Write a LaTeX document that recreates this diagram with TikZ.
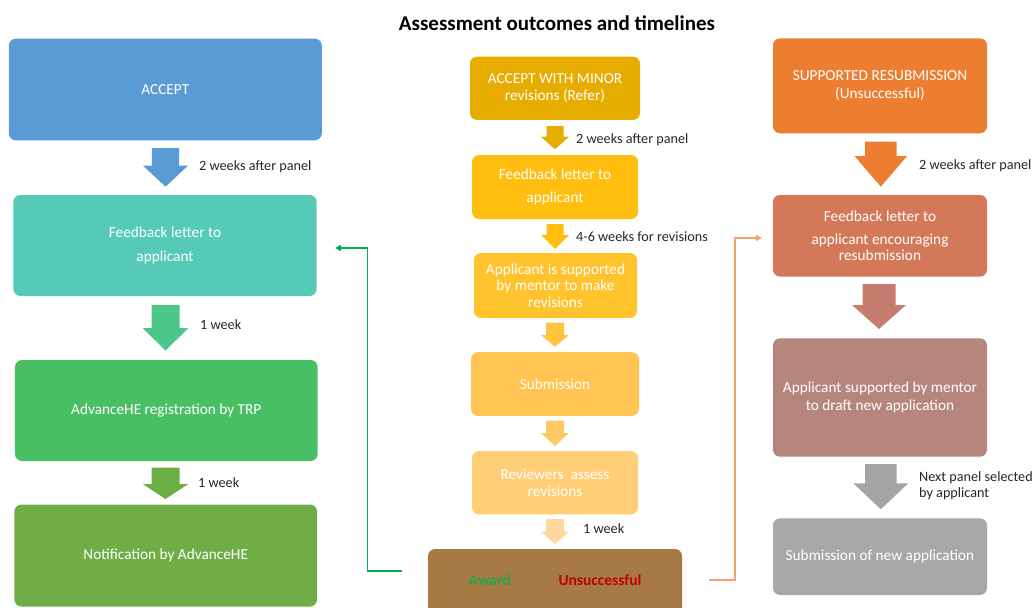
\documentclass[tikz,border=0pt]{standalone}
\usepackage{fontspec}
\setmainfont{Carlito}
\usetikzlibrary{arrows.meta}
\definecolor{cAccept}{HTML}{5B9BD5}
\definecolor{cTeal}{HTML}{55CBB7}
\definecolor{cArrG1}{HTML}{4DC68A}
\definecolor{cReg}{HTML}{48BF63}
\definecolor{cArrG2}{HTML}{6BAF44}
\definecolor{cNotif}{HTML}{70AD47}
\definecolor{cMinor}{HTML}{E6AD00}
\definecolor{cFbM}{HTML}{FFBE10}
\definecolor{cAppM}{HTML}{FFC32E}
\definecolor{cArrM3}{HTML}{FFC440}
\definecolor{cSub}{HTML}{FFC452}
\definecolor{cArrM4}{HTML}{FFCA63}
\definecolor{cRev}{HTML}{FFCE77}
\definecolor{cArrM5}{HTML}{FFD99C}
\definecolor{cBrown}{HTML}{A87A43}
\definecolor{cSupp}{HTML}{ED7D31}
\definecolor{cFbR}{HTML}{D4785A}
\definecolor{cArrR2}{HTML}{C57E6E}
\definecolor{cMauve}{HTML}{B6857B}
\definecolor{cGreyA}{HTML}{A5A5A5}
\definecolor{cGreyB}{HTML}{A8A8A8}
\definecolor{cLink}{HTML}{00B050}
\definecolor{cOrLink}{HTML}{F4A16C}
\definecolor{cAward}{HTML}{1FA84A}
\definecolor{cUnsucc}{HTML}{C00000}
\definecolor{cLbl}{HTML}{262626}
% block arrow: color, cx, ytop, yhead, ytip, half shaft, half head
\newcommand\blockarr[7]{%
  \fill[#1] (#2-#6,#3) -- (#2+#6,#3) -- (#2+#6,#4) -- (#2+#7,#4) -- (#2,#5)
    -- (#2-#7,#4) -- (#2-#6,#4) -- cycle;}
\begin{document}
\begin{tikzpicture}[x=1pt,y=-1pt,
  box/.style={rounded corners=7pt, text=white, align=center, inner sep=0pt,
    font=\fontsize{15.3}{17.5}\selectfont},
  lbl/.style={anchor=west, text=cLbl, inner sep=0pt, align=left,
    font=\fontsize{14.2}{16}\selectfont},
  link/.style={line width=1.6pt, -{Triangle[length=6pt,width=6pt]}}]
\useasboundingbox (0,0) rectangle (1034,608);

\node[font=\bfseries\fontsize{21}{24}\selectfont, inner sep=0pt] (title) at (557,23) {Assessment outcomes and timelines};

% ---- left column
\node[box, fill=cAccept, minimum width=313pt, minimum height=101.6pt] (accept) at (165.3,89.5) {ACCEPT};
\blockarr{cAccept}{165.5}{148}{165.7}{186.7}{13.7}{22.5}
\node[lbl] (l1) at (199,167) {2 weeks after panel};
\node[box, fill=cTeal, minimum width=303.4pt, minimum height=101pt] (fbL) at (165,245.5) {Feedback letter to\\[6pt]applicant};
\blockarr{cArrG1}{165.5}{305}{328}{350.7}{14}{22.8}
\node[lbl] (l2) at (200,325) {1 week};
\node[box, fill=cReg, minimum width=302.7pt, minimum height=101pt] (reg) at (166.3,410.5) {AdvanceHE registration by TRP};
\blockarr{cArrG2}{165.5}{467.7}{484}{499}{14}{22.8}
\node[lbl] (l3) at (198,483) {1 week};
\node[box, fill=cNotif, minimum width=302.7pt, minimum height=102pt] (notif) at (165.7,555.5) {Notification by AdvanceHE};

% ---- middle column
\node[box, fill=cMinor, minimum width=170pt, minimum height=63.3pt] (minor) at (555,88.3) {ACCEPT WITH MINOR\\revisions (Refer)};
\blockarr{cMinor}{555}{126}{136.7}{149.3}{8.5}{14}
\node[lbl] (m1) at (576,140) {2 weeks after panel};
\node[box, fill=cFbM, minimum width=166pt, minimum height=64pt] (fbM) at (555,187) {Feedback letter to\\[5pt]applicant};
\blockarr{cFbM}{555}{224}{235}{249}{8.5}{14}
\node[lbl] (m2) at (576,237) {4-6 weeks for revisions};
\node[box, fill=cAppM, minimum width=163pt, minimum height=65pt] (appM) at (555.5,285.5) {Applicant is supported\\[-1pt]by mentor to make\\[-1pt]revisions};
\blockarr{cArrM3}{555}{322.7}{335}{346.7}{9}{14}
\node[box, fill=cSub, minimum width=168pt, minimum height=63.7pt] (sub) at (555,384) {Submission};
\blockarr{cArrM4}{555}{420.7}{433}{446}{9}{14}
\node[box, fill=cRev, minimum width=166pt, minimum height=63.3pt] (rev) at (555,482.7) {Reviewers\ \ assess\\revisions};
\blockarr{cArrM5}{555}{519}{531.7}{544}{9}{14}
\node[lbl] (m3) at (583,529) {1 week};
\node[box, fill=cBrown, minimum width=254pt, minimum height=66pt] (out) at (555,582) {};
\node[font=\bfseries\fontsize{15.5}{18}\selectfont, text=cAward, inner sep=0pt] (award) at (489.7,580) {Award};
\node[font=\bfseries\fontsize{15.5}{18}\selectfont, text=cUnsucc, inner sep=0pt] (unsucc) at (600,580) {Unsuccessful};

% ---- right column
\node[box, fill=cSupp, minimum width=214pt, minimum height=95pt] (supp) at (880,85.8) {SUPPORTED RESUBMISSION\\(Unsuccessful)};
\blockarr{cSupp}{880.8}{141.7}{156}{186.7}{15.8}{26.3}
\node[lbl] (r1) at (919,166) {2 weeks after panel};
\node[box, fill=cFbR, minimum width=214pt, minimum height=81.7pt] (fbR) at (880,235.8) {Feedback letter to\\[5pt]applicant encouraging\\[-1pt]resubmission};
\blockarr{cArrR2}{879}{284}{305}{329}{16.5}{27}
\node[box, fill=cMauve, minimum width=214pt, minimum height=118.4pt] (appR) at (880,397.5) {Applicant supported by mentor\\to draft new application};
\blockarr{cGreyA}{880.8}{464}{483.3}{509.3}{15.8}{27.5}
\node[lbl] (r2) at (919,486) {Next panel selected\\by applicant};
\node[box, fill=cGreyB, minimum width=214pt, minimum height=76.7pt] (subR) at (880,556.7) {Submission of new application};

% ---- connectors
\coordinate (gS) at (402,571);
\coordinate (gE) at (335,248);
\draw[link, draw=cLink] (gS) -- (367.5,571) |- (gE);
\coordinate (oS) at (709,580);
\coordinate (oE) at (762,238);
\draw[link, draw=cOrLink, line width=1.3pt] (oS) -- (735,580) |- (oE);
\end{tikzpicture}
\end{document}
